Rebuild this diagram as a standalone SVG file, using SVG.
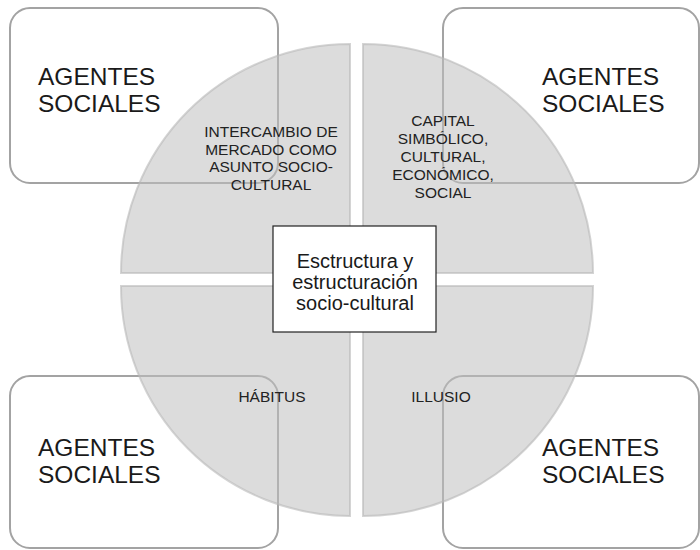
<svg xmlns="http://www.w3.org/2000/svg" width="700" height="550" viewBox="0 0 700 550">
<style>
.box{fill:#ffffff;stroke:#a3a3a3;stroke-width:2}
.quad{fill:#c0c0c0;fill-opacity:0.55;stroke:#b8b8b8;stroke-opacity:0.6;stroke-width:2}
.big{font-family:"Liberation Sans",Arial,sans-serif;font-size:24.5px;fill:#1a1a1a}
.small{font-family:"Liberation Sans",Arial,sans-serif;font-size:15.5px;fill:#222222;text-anchor:middle}
.center{font-family:"Liberation Sans",Arial,sans-serif;font-size:20px;fill:#1a1a1a;text-anchor:middle}
</style>
<rect width="700" height="550" fill="#ffffff"/>
<g id="agentes-tl">
<rect class="box" x="10" y="8" width="268" height="175" rx="20"/>
<text class="big" x="38" y="85">AGENTES</text>
<text class="big" x="38" y="112">SOCIALES</text>
</g>
<g id="agentes-tr">
<rect class="box" x="443" y="8" width="256" height="175" rx="20"/>
<text class="big" x="542" y="85">AGENTES</text>
<text class="big" x="542" y="112">SOCIALES</text>
</g>
<g id="agentes-bl">
<rect class="box" x="10" y="376" width="268" height="172" rx="20"/>
<text class="big" x="38" y="456">AGENTES</text>
<text class="big" x="38" y="483">SOCIALES</text>
</g>
<g id="agentes-br">
<rect class="box" x="443" y="376" width="256" height="172" rx="20"/>
<text class="big" x="542" y="456">AGENTES</text>
<text class="big" x="542" y="483">SOCIALES</text>
</g>
<g id="quad-intercambio">
<path class="quad" d="M350,273 L121,273 A229,229 0 0 1 350,44 Z"/>
<text class="small" x="271" y="137">INTERCAMBIO DE</text>
<text class="small" x="271" y="154.5">MERCADO COMO</text>
<text class="small" x="271" y="172">ASUNTO SOCIO-</text>
<text class="small" x="271" y="189.5">CULTURAL</text>
</g>
<g id="quad-capital">
<path class="quad" d="M363,273 L363,44 A229.5,229.5 0 0 1 593,273 Z"/>
<text class="small" x="443" y="126">CAPITAL</text>
<text class="small" x="443" y="144">SIMBÓLICO,</text>
<text class="small" x="443" y="162">CULTURAL,</text>
<text class="small" x="443" y="180">ECONÓMICO,</text>
<text class="small" x="443" y="198">SOCIAL</text>
</g>
<g id="quad-habitus">
<path class="quad" d="M350,286 L350,516 A229.5,229.5 0 0 1 121,286 Z"/>
<text class="small" x="272" y="402">HÁBITUS</text>
</g>
<g id="quad-illusio">
<path class="quad" d="M363,286 L593,286 A229.5,229.5 0 0 1 363,516 Z"/>
<text class="small" x="441" y="402">ILLUSIO</text>
</g>
<g id="centro">
<rect x="273" y="226" width="163" height="106" fill="#ffffff" stroke="#222222" stroke-width="1.2"/>
<text class="center" x="355" y="268">Esctructura y</text>
<text class="center" x="355" y="289">estructuración</text>
<text class="center" x="355" y="310">socio-cultural</text>
</g>
<g id="connectors"/>
</svg>
